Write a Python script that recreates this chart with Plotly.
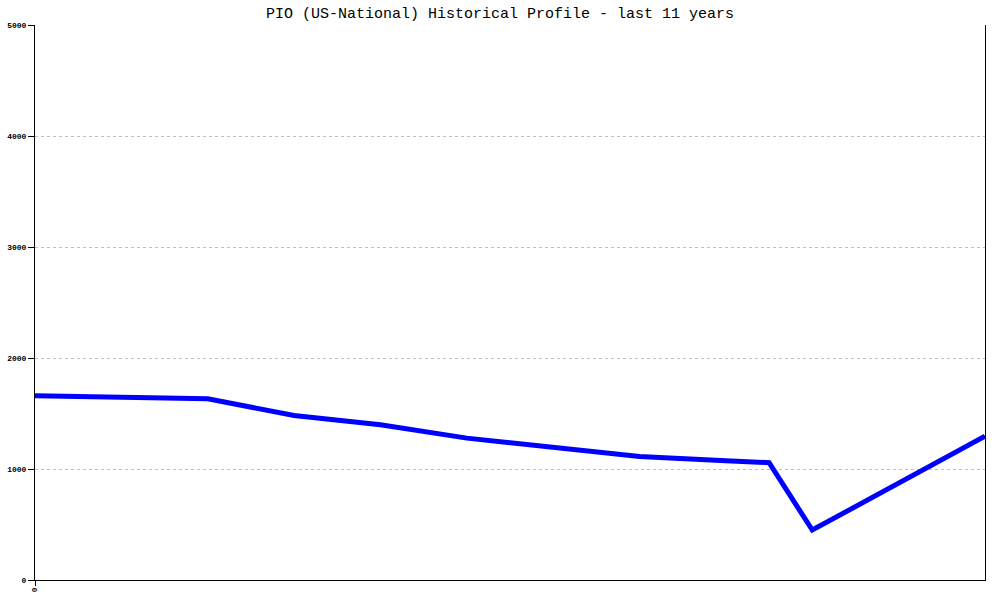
import plotly.graph_objects as go

# Data (x in years from start, y = count)
years_offset = [0, 1, 2, 3, 4, 5, 6, 7, 8, 8.5, 9, 11]
values = [1660, 1648, 1632, 1482, 1398, 1278, 1190, 1112, 1075, 1057, 450, 1295]

y_ticks = [0, 1000, 2000, 3000, 4000, 5000]
x_tick_vals = [0]
x_tick_text = ["0"]

fig = go.Figure()
fig.add_trace(go.Scatter(
    x=years_offset, y=values, mode="lines",
    line=dict(color="#0000ff", width=5),
    hoverinfo="x+y", showlegend=False,
))
# invisible trace on secondary y-axis to draw right border
fig.add_trace(go.Scatter(x=[0], y=[0], yaxis="y2", mode="markers",
                         marker=dict(opacity=0), showlegend=False, hoverinfo="skip"))

mono = "Liberation Mono, Courier New, monospace"
fig.update_layout(
    width=1000, height=600,
    margin=dict(l=35, r=15, t=25, b=20),
    paper_bgcolor="white", plot_bgcolor="white",
    title=dict(text="PIO (US-National) Historical Profile - last 11 years",
               x=0.5, xanchor="center", y=1 - 13 / 600, yanchor="middle",
               font=dict(family=mono, size=15, color="black")),
    font=dict(family=mono, color="black"),
    xaxis=dict(range=[0, 11], tickvals=x_tick_vals, ticktext=x_tick_text,
               tickangle=90, ticks="outside", ticklen=5, tickcolor="black",
               showline=True, linecolor="black", linewidth=1,
               showgrid=False, zeroline=False, automargin=False,
               tickfont=dict(family=mono, size=8, color="black", weight="bold")),
    yaxis=dict(range=[0, 5000], tickvals=y_ticks,
               ticks="outside", ticklen=6, tickcolor="black",
               showline=True, linecolor="black", linewidth=1,
               showgrid=True, gridcolor="#c0c0c0", griddash="3px,3px", gridwidth=1,
               zeroline=False, automargin=False,
               tickfont=dict(family=mono, size=8, color="black", weight="bold")),
    yaxis2=dict(range=[0, 5000], overlaying="y", side="right",
                showline=True, linecolor="black", linewidth=1, automargin=False,
                showticklabels=False, ticks="", showgrid=False, zeroline=False),
)

fig.write_html("out.html", config={"displayModeBar": False},
               post_script="document.body.style.margin='0px';")
